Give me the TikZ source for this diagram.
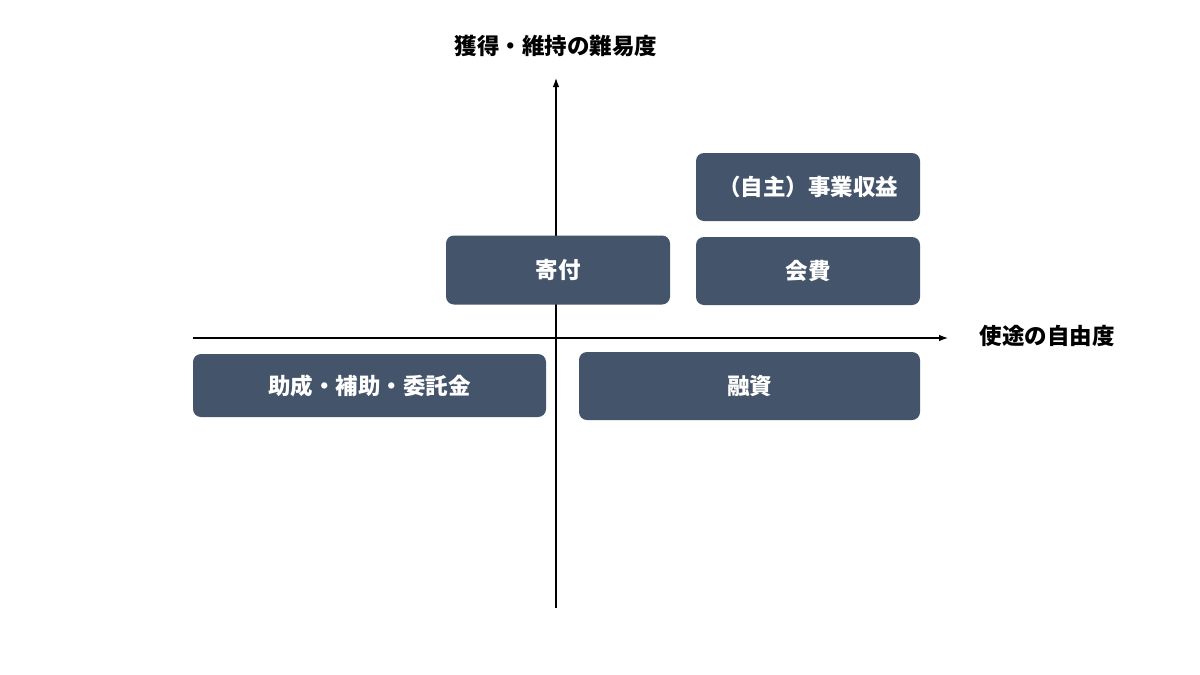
\documentclass[tikz,border=0pt]{standalone}
\usepackage{fontspec}
\setmainfont{Noto Sans CJK JP}
\usetikzlibrary{arrows.meta}
\definecolor{slate}{HTML}{44546A}

\begin{document}
\begin{tikzpicture}[x=1pt,y=-1pt,
  box/.style={fill=slate, rounded corners=8pt, text=white, font=\fontsize{22.5}{27}\selectfont\bfseries},
  axis/.style={line width=1.1pt, -{Latex[length=9pt,width=6.5pt]}},
  lbl/.style={font=\fontsize{22.5}{27}\selectfont\bfseries}]
\useasboundingbox[fill=white] (0,0) rectangle (1200,675);
% axes
\coordinate (v-bot) at (556,608);
\coordinate (v-top) at (556,78);
\coordinate (h-left) at (193,338);
\coordinate (h-right) at (948,338);
\draw[axis] (v-bot) -- (v-top);
\draw[axis] (h-left) -- (h-right);
\node[lbl] (ylabel) at (556,46) {獲得・維持の難易度};
\node[lbl, anchor=west] (xlabel) at (976,336) {使途の自由度};
% boxes
\node[box, minimum width=224pt, minimum height=68pt] (jigyo) at (808,187) {（自主）事業収益};
\node[box, minimum width=224pt, minimum height=68pt] (kaihi) at (808,271) {会費};
\node[box, minimum width=224pt, minimum height=69pt] (kifu) at (558,270) {寄付};
\node[box, minimum width=353pt, minimum height=63pt] (josei) at (369.5,385.5) {助成・補助・委託金};
\node[box, minimum width=341pt, minimum height=68pt] (yushi) at (749.5,386) {融資};
\end{tikzpicture}
\end{document}
